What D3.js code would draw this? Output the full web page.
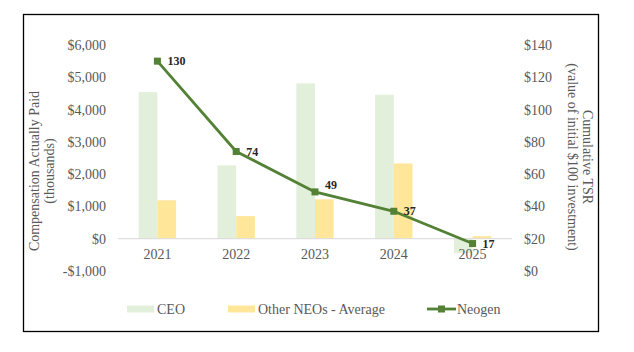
<!DOCTYPE html>
<html>
<head>
<meta charset="utf-8">
<script src="https://cdn.jsdelivr.net/npm/d3@7"></script>
<style>
  body { margin: 0; background: #fff; }
  text { font-family: "Liberation Serif", "Times New Roman", serif; }
</style>
</head>
<body>
<svg id="svg-1" width="634" height="352"></svg>
<script>
const CEO_COLOR = "#e2efda";
const NEO_COLOR = "#ffe699";
const LINE_COLOR = "#538135";
const TEXT_COLOR = "#595959";

const years = ["2021", "2022", "2023", "2024", "2025"];
const ceoPay = [4540, 2270, 4810, 4460, -450];
const neoPay = [1190, 700, 1220, 2330, 80];
const tsr = [130, 74, 49, 37, 17];
const leftTicks = [-1000, 0, 1000, 2000, 3000, 4000, 5000, 6000];
const rightTicks = [0, 20, 40, 60, 80, 100, 120, 140];
const seriesNames = ["CEO", "Other NEOs - Average", "Neogen"];

var svg = d3.select("#svg-1"),
  plot = { left: 118, right: 512, top: 45, bottom: 271 };

// outer frame
svg.append("rect")
  .attr("x", 23.5).attr("y", 14.5)
  .attr("width", 575).attr("height", 317)
  .attr("fill", "none").attr("stroke", "#000").attr("stroke-width", 1.3);

var x = d3.scaleBand().domain(years).range([plot.left, plot.right]).padding(0);
var yL = d3.scaleLinear().domain([-1000, 6000]).range([plot.bottom, plot.top]);
var yR = d3.scaleLinear().domain([0, 140]).range([plot.bottom, plot.top]);

var barW = x.bandwidth() * 0.237;

var rows = years.map(function(y, i) {
  return { year: y, ceo: ceoPay[i], neo: neoPay[i], tsr: tsr[i] };
});

// bars
var g = svg.append("g");
g.selectAll("rect.ceo")
  .data(rows).enter().append("rect")
  .attr("fill", CEO_COLOR)
  .attr("x", function(d) { return x(d.year) + x.bandwidth() / 2 - barW; })
  .attr("width", barW)
  .attr("y", function(d) { return yL(Math.max(0, d.ceo)); })
  .attr("height", function(d) { return Math.abs(yL(d.ceo) - yL(0)); });

g.selectAll("rect.neo")
  .data(rows).enter().append("rect")
  .attr("fill", NEO_COLOR)
  .attr("x", function(d) { return x(d.year) + x.bandwidth() / 2; })
  .attr("width", barW)
  .attr("y", function(d) { return yL(Math.max(0, d.neo)); })
  .attr("height", function(d) { return Math.abs(yL(d.neo) - yL(0)); });

// zero line
svg.append("line")
  .attr("x1", plot.left).attr("x2", plot.right)
  .attr("y1", yL(0)).attr("y2", yL(0))
  .attr("stroke", "#d9d9d9").attr("stroke-width", 1);

// left axis
var axL = svg.append("g")
  .attr("transform", "translate(" + (plot.left - 12) + ",0)")
  .call(d3.axisLeft(yL).tickValues(leftTicks).tickSize(0).tickPadding(0)
    .tickFormat(function(d) { return (d < 0 ? "-$" : "$") + d3.format(",")(Math.abs(d)); }));
axL.select(".domain").remove();
axL.selectAll("text").attr("font-size", 14).attr("fill", TEXT_COLOR)
  .style("font-family", "Liberation Serif, serif");

// right axis
var axR = svg.append("g")
  .attr("transform", "translate(" + (plot.right + 12) + ",0)")
  .call(d3.axisRight(yR).tickValues(rightTicks).tickSize(0).tickPadding(0)
    .tickFormat(function(d) { return "$" + d; }));
axR.select(".domain").remove();
axR.selectAll("text").attr("font-size", 14).attr("fill", TEXT_COLOR)
  .style("font-family", "Liberation Serif, serif");

// category axis
var axB = svg.append("g")
  .attr("transform", "translate(0," + yL(0) + ")")
  .call(d3.axisBottom(x).tickSize(0).tickPadding(10));
axB.select(".domain").remove();
axB.selectAll("text").attr("font-size", 14).attr("fill", TEXT_COLOR)
  .style("font-family", "Liberation Serif, serif");

// axis titles
var tl = svg.append("text")
  .attr("transform", "translate(34,171) rotate(-90)")
  .attr("text-anchor", "middle").attr("font-size", 14).attr("fill", TEXT_COLOR);
tl.append("tspan").attr("x", 0).attr("dy", "0.35em").text("Compensation Actually Paid");
tl.append("tspan").attr("x", 0).attr("dy", "1.05em").text("(thousands)");

var tr = svg.append("text")
  .attr("transform", "translate(588,157) rotate(90)")
  .attr("text-anchor", "middle").attr("font-size", 14).attr("fill", TEXT_COLOR);
tr.append("tspan").attr("x", 0).attr("dy", "0.35em").text("Cumulative TSR");
tr.append("tspan").attr("x", 0).attr("dy", "1.05em").text("(value of initial $100 investment)");

// TSR line
var cx = function(d) { return x(d.year) + x.bandwidth() / 2; };
svg.append("path")
  .datum(rows)
  .attr("fill", "none").attr("stroke", LINE_COLOR).attr("stroke-width", 2.8)
  .attr("stroke-linejoin", "round")
  .attr("d", d3.line().x(cx).y(function(d) { return yR(d.tsr); }));

svg.selectAll("rect.marker")
  .data(rows).enter().append("rect")
  .attr("fill", LINE_COLOR)
  .attr("x", function(d) { return cx(d) - 3.5; })
  .attr("y", function(d) { return yR(d.tsr) - 3.5; })
  .attr("width", 7).attr("height", 7);

// labels sit right of the marker; the 2023 one is nudged up off the line
svg.selectAll("text.lbl")
  .data(rows).enter().append("text")
  .attr("x", function(d) { return cx(d) + 10; })
  .attr("y", function(d) { return yR(d.tsr) - (d.year === "2023" ? 7 : 0); })
  .attr("dy", "0.35em")
  .attr("font-size", 12).attr("font-weight", "bold").attr("fill", "#262626")
  .text(function(d) { return d.tsr; });

// legend
var legendX = [127, 228, 427];
var legend = svg.append("g").selectAll("g")
  .data(seriesNames).enter().append("g")
  .attr("transform", function(d, i) { return "translate(" + legendX[i] + ",309)"; });

legend.filter(function(d, i) { return i < 2; })
  .append("rect")
  .attr("x", 0).attr("y", -3.5).attr("width", 27).attr("height", 7)
  .attr("fill", function(d, i) { return i === 0 ? CEO_COLOR : NEO_COLOR; });

var lineKey = legend.filter(function(d, i) { return i === 2; });
lineKey.append("line")
  .attr("x1", 0).attr("x2", 29).attr("y1", 0).attr("y2", 0)
  .attr("stroke", LINE_COLOR).attr("stroke-width", 2.8);
lineKey.append("rect")
  .attr("x", 11).attr("y", -3.5).attr("width", 7).attr("height", 7)
  .attr("fill", LINE_COLOR);

legend.append("text")
  .attr("x", 30)
  .attr("y", 0).attr("dy", "0.35em")
  .attr("font-size", 14).attr("fill", TEXT_COLOR)
  .text(function(d) { return d; });
</script>
</body>
</html>
